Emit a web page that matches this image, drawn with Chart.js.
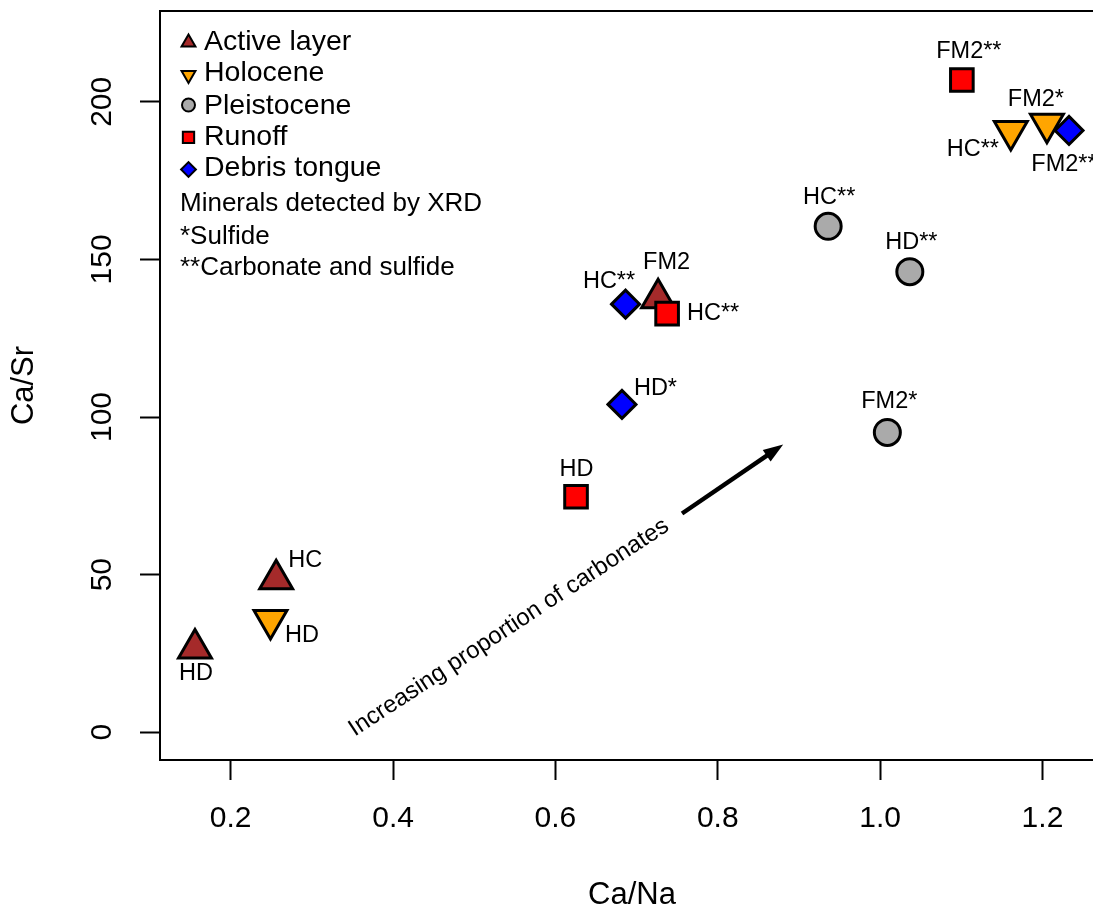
<!DOCTYPE html>
<html><head><meta charset="utf-8">
<script src="https://cdn.jsdelivr.net/npm/chart.js@4.4.1/dist/chart.umd.min.js"></script>
<style>
html,body{margin:0;padding:0;background:#fff;overflow:hidden;}
#wrap{position:relative;width:1104px;height:911px;}
</style></head>
<body><div id="wrap"><canvas id="c"></canvas></div>
<script>
// ---------- data ----------
const xTicks = [0.2, 0.4, 0.6, 0.8, 1.0, 1.2];
const yTicks = [0, 50, 100, 150, 200];
const seriesNames = ['Active layer', 'Holocene', 'Pleistocene', 'Runoff', 'Debris tongue'];

const activeX = [0.156, 0.256, 0.7265];
const activeY = [26.6, 48.5, 137.7];
const activeLabels = ['HD', 'HC', 'FM2'];

const holoceneX = [0.249, 1.161, 1.2055];
const holoceneY = [35.6, 190.7, 193.0];
const holoceneLabels = ['HD', 'HC**', 'FM2*'];

const pleistoceneX = [0.936, 1.0366, 1.0089];
const pleistoceneY = [160.5, 146.1, 95.1];
const pleistoceneLabels = ['HC**', 'HD**', 'FM2*'];

const runoffX = [0.6254, 0.7376, 1.1007];
const runoffY = [74.7, 132.8, 206.9];
const runoffLabels = ['HD', 'HC**', 'FM2**'];

const debrisX = [0.682, 0.6864, 1.2327];
const debrisY = [104.0, 135.8, 190.9];
const debrisLabels = ['HD*', 'HC**', 'FM2**'];

const noteLines = ['Minerals detected by XRD', '*Sulfide', '**Carbonate and sulfide'];
const arrowText = 'Increasing proportion of carbonates';
const arrowFrom = [0.756, 69.4];
const arrowTo = [0.8806, 91.3];
const arrowTextAt = [0.5428, 33.2];

// ---------- label placement (pixel offsets from each marker) ----------
const activeLabelOffsets = [[1, 25], [29, -19], [8.5, -35.5]];
const holoceneLabelOffsets = [[31.5, 15], [-38, 18], [-11, -24]];
const pleistoceneLabelOffsets = [[1, -29], [1.5, -29.5], [2, -30.5]];
const runoffLabelOffsets = [[0.5, -27.5], [46, 0], [7, -28.5]];
const debrisLabelOffsets = [[33.5, -16], [-16.5, -23], [-5, 34]];

// ---------- styles ----------
const FONT = '"Liberation Sans", Arial, Helvetica, sans-serif';
const styles = [
  {pointStyle: 'triangle', rot: 0, r: 19, fill: '#A52A2A', lr: 8, ly: 42.5, ty: 42},
  {pointStyle: 'triangle', rot: 180, r: 19, fill: '#FFA500', lr: 8, ly: 75, ty: 73},
  {pointStyle: 'circle', rot: 0, r: 13, fill: '#AAAAAA', lr: 6.5, ly: 105, ty: 106},
  {pointStyle: 'rect', rot: 0, r: 16, fill: '#FF0000', lr: 8, ly: 137.3, ty: 137.5},
  {pointStyle: 'rectRot', rot: 0, r: 14, fill: '#0000FF', lr: 7.4, ly: 169.5, ty: 168.5}
];
const allX = [activeX, holoceneX, pleistoceneX, runoffX, debrisX];
const allY = [activeY, holoceneY, pleistoceneY, runoffY, debrisY];
const allLabels = [activeLabels, holoceneLabels, pleistoceneLabels, runoffLabels, debrisLabels];
const allOffsets = [activeLabelOffsets, holoceneLabelOffsets, pleistoceneLabelOffsets, runoffLabelOffsets, debrisLabelOffsets];

const datasets = seriesNames.map((name, i) => ({
  label: name,
  data: allX[i].map((x, j) => ({x: x, y: allY[i][j]})),
  pointStyle: styles[i].pointStyle,
  pointRotation: styles[i].rot,
  pointRadius: styles[i].r,
  pointHoverRadius: styles[i].r,
  pointBackgroundColor: styles[i].fill,
  pointBorderColor: '#000',
  pointBorderWidth: 3,
  pointHoverBorderWidth: 3,
  showLine: false,
  clip: false,
  order: 5 - i
}));

function drawMarker(ctx, st, r, x, y, bw) {
  ctx.save();
  ctx.fillStyle = st.fill;
  ctx.strokeStyle = '#000';
  ctx.lineWidth = bw;
  ctx.lineJoin = 'miter';
  if (Chart.helpers && Chart.helpers.drawPoint) {
    Chart.helpers.drawPoint(ctx, {pointStyle: st.pointStyle, rotation: st.rot, radius: r, borderWidth: bw}, x, y);
  }
  ctx.restore();
}

const decorPlugin = {
  id: 'decor',
  afterDatasetsDraw(chart) {
    const ctx = chart.ctx;
    ctx.save();
    ctx.fillStyle = '#000';
    ctx.font = '23.5px ' + FONT;
    ctx.textAlign = 'center';
    ctx.textBaseline = 'middle';
    seriesNames.forEach((n, i) => {
      const meta = chart.getDatasetMeta(i);
      meta.data.forEach((el, j) => {
        const off = allOffsets[i][j];
        ctx.fillText(allLabels[i][j], el.x + off[0], el.y + off[1]);
      });
    });
    ctx.restore();
  },
  afterDraw(chart) {
    const ctx = chart.ctx;
    const a = chart.chartArea;
    const xs = chart.scales.x, ys = chart.scales.y;
    ctx.save();
    // top and right frame
    ctx.strokeStyle = '#000';
    ctx.lineWidth = 2;
    ctx.beginPath();
    ctx.moveTo(a.left - 1, a.top);
    ctx.lineTo(a.right, a.top);
    ctx.lineTo(a.right, a.bottom);
    ctx.stroke();

    // legend
    ctx.fillStyle = '#000';
    ctx.textAlign = 'left';
    ctx.textBaseline = 'middle';
    ctx.font = '28.5px ' + FONT;
    seriesNames.forEach((n, i) => {
      drawMarker(ctx, styles[i], styles[i].lr, 188.5, styles[i].ly, 2);
      ctx.fillStyle = '#000';
      ctx.fillText(n, 204, styles[i].ty);
    });
    ctx.font = '26px ' + FONT;
    const noteY = [204, 236.7, 267.5];
    noteLines.forEach((t, k) => ctx.fillText(t, 180, noteY[k]));

    // arrow
    const x0 = xs.getPixelForValue(arrowFrom[0]), y0 = ys.getPixelForValue(arrowFrom[1]);
    const x1 = xs.getPixelForValue(arrowTo[0]), y1 = ys.getPixelForValue(arrowTo[1]);
    const ang = Math.atan2(y1 - y0, x1 - x0);
    const hl = 20, hw = 7;
    const bx = x1 - hl * Math.cos(ang), by = y1 - hl * Math.sin(ang);
    ctx.lineWidth = 4.5;
    ctx.lineCap = 'butt';
    ctx.beginPath();
    ctx.moveTo(x0, y0);
    ctx.lineTo(bx + 2 * Math.cos(ang), by + 2 * Math.sin(ang));
    ctx.stroke();
    ctx.beginPath();
    ctx.moveTo(x1, y1);
    ctx.lineTo(bx - hw * Math.sin(ang), by + hw * Math.cos(ang));
    ctx.lineTo(bx + hw * Math.sin(ang), by - hw * Math.cos(ang));
    ctx.closePath();
    ctx.fill();

    // rotated text
    const tx = xs.getPixelForValue(arrowTextAt[0]), ty = ys.getPixelForValue(arrowTextAt[1]);
    ctx.translate(tx, ty);
    ctx.rotate(-33.3 * Math.PI / 180);
    ctx.font = '24px ' + FONT;
    ctx.textAlign = 'center';
    ctx.textBaseline = 'middle';
    ctx.fillText(arrowText, 0, 0);
    ctx.restore();
  }
};

const tickGrid = {drawOnChartArea: false, drawTicks: true, tickLength: 20, tickWidth: 2, tickColor: '#000'};
function zeroPad(s) { s.paddingTop = 0; s.paddingBottom = 0; s.paddingLeft = 0; s.paddingRight = 0; }

new Chart(document.getElementById('c'), {
  type: 'scatter',
  data: {datasets: datasets},
  options: {
    responsive: true,
    maintainAspectRatio: false,
    animation: false,
    events: [],
    layout: {autoPadding: false, padding: {top: 11, right: 0, bottom: 0, left: 0}},
    plugins: {legend: {display: false}, tooltip: {enabled: false}},
    scales: {
      x: {
        type: 'linear', min: 0.1129, max: 1.2758,
        afterBuildTicks: s => { s.ticks = xTicks.map(v => ({value: v})); },
        ticks: {callback: v => Number(v).toFixed(1), font: {family: FONT, size: 30}, color: '#000', padding: 21, maxRotation: 0, minRotation: 0, autoSkip: false},
        grid: tickGrid,
        border: {display: true, color: '#000', width: 2},
        title: {display: true, text: 'Ca/Na', color: '#000', font: {family: FONT, size: 31, lineHeight: 1}, padding: {top: 0, bottom: 0}},
        afterFit: s => { s.height = 151; zeroPad(s); }
      },
      y: {
        type: 'linear', min: -8.8, max: 228.8,
        afterBuildTicks: s => { s.ticks = yTicks.map(v => ({value: v})); },
        ticks: {callback: v => String(v), font: {family: FONT, size: 30}, color: '#000', padding: 12.5, minRotation: 90, maxRotation: 90, crossAlign: 'center', autoSkip: false},
        grid: tickGrid,
        border: {display: true, color: '#000', width: 2},
        title: {display: true, text: 'Ca/Sr', color: '#000', font: {family: FONT, size: 31, lineHeight: 1}, padding: {top: 9, bottom: 0}},
        afterFit: s => { s.width = 160; zeroPad(s); }
      }
    }
  },
  plugins: [decorPlugin]
});
</script>
</body></html>
